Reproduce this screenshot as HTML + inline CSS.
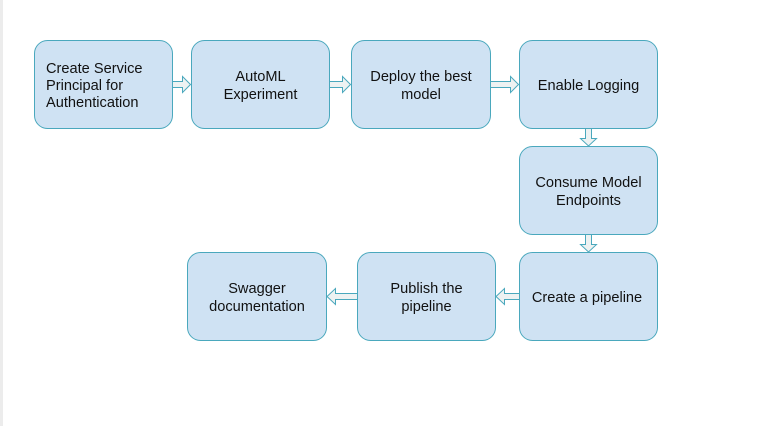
<!DOCTYPE html>
<html><head><meta charset="utf-8"><style>
html,body{margin:0;padding:0;background:#fff;}
svg{display:block;}
text{font-family:"Liberation Sans",Arial,sans-serif;font-size:14.6px;fill:#111;}
</style></head><body>
<svg width="770" height="426" viewBox="0 0 770 426" xmlns="http://www.w3.org/2000/svg">
<rect x="0" y="0" width="3" height="426" fill="#ececec"/>
<g fill="#cfe2f3" stroke="#4aa8bd" stroke-width="1">
<rect x="34.5" y="40.5" width="138" height="88" rx="13"/>
<rect x="191.5" y="40.5" width="138" height="88" rx="13"/>
<rect x="351.5" y="40.5" width="139" height="88" rx="13"/>
<rect x="519.5" y="40.5" width="138" height="88" rx="13"/>
<rect x="519.5" y="146.5" width="138" height="88" rx="13"/>
<rect x="519.5" y="252.5" width="138" height="88" rx="13"/>
<rect x="357.5" y="252.5" width="138" height="88" rx="13"/>
<rect x="187.5" y="252.5" width="139" height="88" rx="13"/>
</g>
<g fill="#eef2f2" stroke="#4aa8bd" stroke-width="1">
<path d="M172.5 81.5 H182.5 V76.5 L190.5 84.5 L182.5 92.5 V87.5 H172.5 Z"/>
<path d="M329.5 81.5 H342.5 V76.5 L350.5 84.5 L342.5 92.5 V87.5 H329.5 Z"/>
<path d="M490.5 81.5 H510.5 V76.5 L518.5 84.5 L510.5 92.5 V87.5 H490.5 Z"/>
<path d="M585.5 128.5 V138.5 H580.5 L588.5 146 L596.5 138.5 H591.5 V128.5 Z"/>
<path d="M585.5 234.5 V244.5 H580.5 L588.5 252 L596.5 244.5 H591.5 V234.5 Z"/>
<path d="M519.5 293.5 H504.5 V288.5 L496 296.5 L504.5 304.5 V299.5 H519.5 Z"/>
<path d="M357.5 293.5 H335.5 V288.5 L327 296.5 L335.5 304.5 V299.5 H357.5 Z"/>
</g>
<text x="46" y="73">Create Service</text>
<text x="46" y="90">Principal for</text>
<text x="46" y="107">Authentication</text>
<text x="260.5" y="81" text-anchor="middle">AutoML</text>
<text x="260.5" y="99" text-anchor="middle">Experiment</text>
<text x="421" y="81" text-anchor="middle">Deploy the best</text>
<text x="421" y="99" text-anchor="middle">model</text>
<text x="588.5" y="90" text-anchor="middle">Enable Logging</text>
<text x="588.5" y="187" text-anchor="middle">Consume Model</text>
<text x="588.5" y="205" text-anchor="middle">Endpoints</text>
<text x="587" y="302" text-anchor="middle">Create a pipeline</text>
<text x="426.5" y="293" text-anchor="middle">Publish the</text>
<text x="426.5" y="311" text-anchor="middle">pipeline</text>
<text x="257" y="293" text-anchor="middle">Swagger</text>
<text x="257" y="311" text-anchor="middle">documentation</text>
</svg>
</body></html>
